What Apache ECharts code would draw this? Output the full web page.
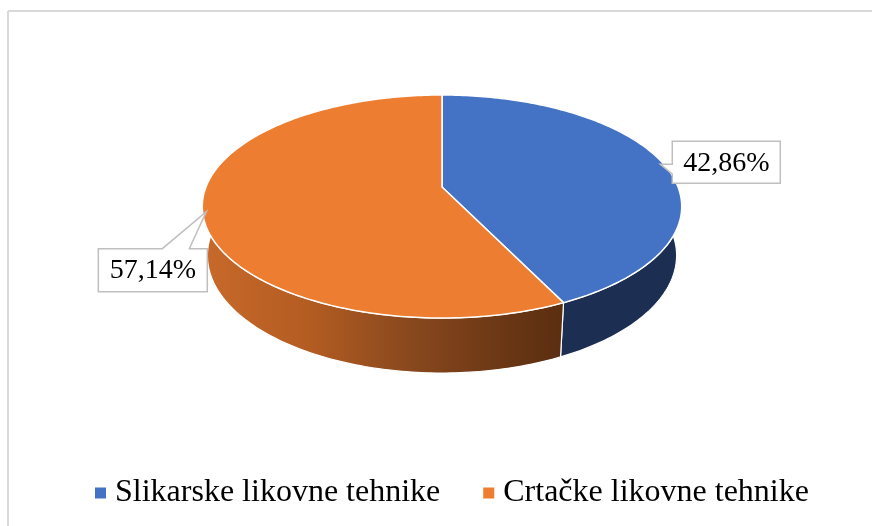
<!DOCTYPE html>
<html>
<head>
  <meta charset="utf-8">
  <title>Likovne tehnike</title>
  <script src="https://cdn.jsdelivr.net/npm/echarts@6/dist/echarts.min.js"></script>
  <style>
    html, body {margin: 0; padding: 0; background: #fff;}
    #chart {width: 872px; height: 526px;}
  </style>
</head>
<body>
<div id="chart"></div>
<script>
  const categories = ['Slikarske likovne tehnike', 'Crtačke likovne tehnike'];
  const values = [42.86, 57.14];
  const topColors = ['#4472C4', '#ED7D31'];

  // 3d pie projection (camera tilted, slight perspective)
  const CX = 442, CY = 187, K = 1199, S = 0.458, C = 0.889, D = 5.08, H = 0.235;

  function project(deg, r, depth) {
    const t = deg * Math.PI / 180;
    const a = r * Math.sin(t), b = -r * Math.cos(t);
    const z = D - b * C + depth * S;
    return [CX + K * a / z, CY + K * (b * S + depth * C) / z];
  }

  function arc(from, to, r, depth) {
    const pts = [];
    const n = Math.max(2, Math.ceil(Math.abs(to - from)));
    for (let i = 0; i <= n; i++) {
      pts.push(project(from + (to - from) * i / n, r, depth));
    }
    return pts;
  }

  const total = values.reduce((s, v) => s + v, 0);
  const starts = [];
  let acc = 0;
  values.forEach(v => {
    starts.push(acc / total * 360);
    acc += v;
  });

  const sideFill = [
    '#1c2e52',
    new echarts.graphic.LinearGradient(0, 0, 1, 0, [
      {offset: 0, color: '#c8692a'},
      {offset: 0.3, color: '#b35c22'},
      {offset: 0.55, color: '#8c4a1e'},
      {offset: 0.8, color: '#6e3916'},
      {offset: 1, color: '#5a2e10'}
    ])
  ];

  function fmt(v) {
    return (v / total * 100).toFixed(2).replace('.', ',') + '%';
  }

  function callout(tip, right) {
    let L, T, R, B, pts;
    if (right) {
      L = tip[0] + 12; T = tip[1] - 23; R = L + 108; B = T + 42;
      pts = [[L, T], [R, T], [R, B], [L, B], [L, tip[1] + 10], tip, [L, tip[1]]];
    } else {
      R = tip[0] + 1; L = R - 109; T = tip[1] + 37; B = T + 43;
      pts = [[L, T], [tip[0] - 44, T], tip, [tip[0] - 17, T], [R, T], [R, B], [L, B]];
    }
    return {L, T, R, B, pts};
  }

  function renderSlice(idx) {
    return function (params, api) {
      const a0 = starts[idx];
      const a1 = a0 + values[idx] / total * 360;
      const children = [];

      // visible front wall
      const s0 = Math.max(a0, 90), s1 = Math.min(a1, 270);
      if (s1 > s0) {
        const side = arc(s0, s1, 1, 0).concat(arc(s1, s0, 1, H));
        children.push({
          type: 'polygon',
          z2: 1,
          shape: {points: side},
          style: {fill: sideFill[idx], stroke: '#fff', lineWidth: 1.2}
        });
      }

      // top face
      const top = [project(0, 0, 0)].concat(arc(a0, a1, 1, 0));
      children.push({
        type: 'polygon',
        z2: 10,
        shape: {points: top},
        style: {fill: topColors[idx], stroke: '#fff', lineWidth: 1.5}
      });

      // data label
      const mid = (a0 + a1) / 2;
      const tip = project(mid, 0.985, 0);
      const box = callout(tip, Math.sin(mid * Math.PI / 180) > 0);
      children.push({
        type: 'polygon',
        z2: 20,
        shape: {points: box.pts},
        style: {fill: '#fff', stroke: '#bfbfbf', lineWidth: 1.5}
      });
      children.push({
        type: 'text',
        z2: 21,
        style: {
          text: fmt(values[idx]),
          x: (box.L + box.R) / 2,
          y: (box.T + box.B) / 2 + 1,
          align: 'center',
          verticalAlign: 'middle',
          fontFamily: 'Liberation Serif',
          fontSize: 28,
          fill: '#000'
        }
      });
      return {type: 'group', children};
    };
  }

  const option = {
    backgroundColor: '#fff',
    animation: false,
    graphic: [
      {type: 'line', shape: {x1: 8, y1: 11, x2: 872, y2: 11}, style: {stroke: '#d9d9d9', lineWidth: 2}},
      {type: 'line', shape: {x1: 8, y1: 11, x2: 8, y2: 526}, style: {stroke: '#d9d9d9', lineWidth: 2}}
    ],
    legend: {
      left: 95,
      top: 477,
      padding: 0,
      icon: 'rect',
      itemWidth: 11,
      itemHeight: 11,
      itemGap: 43,
      textStyle: {fontFamily: 'Liberation Serif', fontSize: 32, color: '#000', padding: [0, 0, 0, 4]},
      data: categories
    },
    series: categories.map((name, i) => ({
      type: 'custom',
      name: name,
      coordinateSystem: 'none',
      color: topColors[i],
      data: [[values[i]]],
      renderItem: renderSlice(i)
    }))
  };

  echarts.init(document.getElementById('chart')).setOption(option);
</script>
</body>
</html>
